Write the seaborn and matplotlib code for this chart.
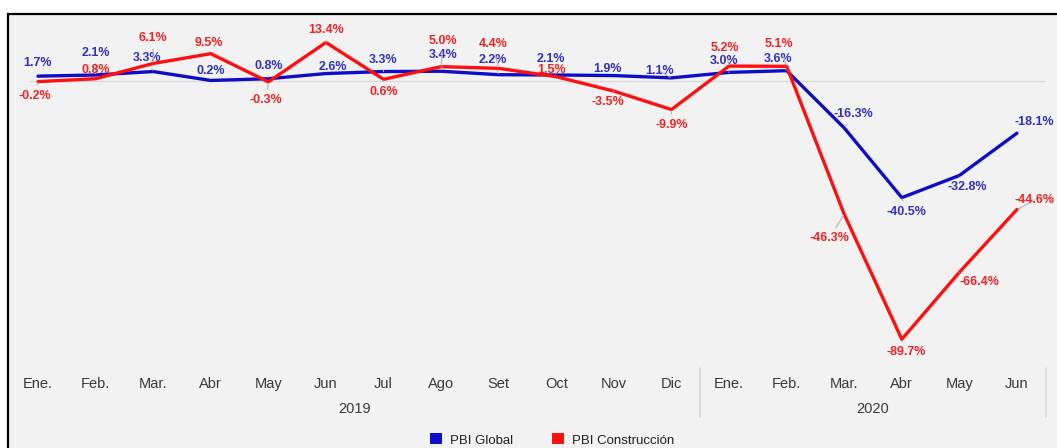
import matplotlib
matplotlib.use("Agg")
import matplotlib.pyplot as plt
from matplotlib.patches import Rectangle, Patch
from matplotlib.transforms import blended_transform_factory
import numpy as np
import pandas as pd
import seaborn as sns

# --- data -------------------------------------------------------------
months = ["Ene.", "Feb.", "Mar.", "Abr", "May", "Jun", "Jul", "Ago", "Set",
          "Oct", "Nov", "Dic", "Ene.", "Feb.", "Mar.", "Abr", "May", "Jun"]
years = ["2019", "2020"]
months_per_year = [12, 6]

pbi_global = [1.7, 2.1, 3.3, 0.2, 0.8, 2.6, 3.3, 3.4, 2.2, 2.1, 1.9, 1.1,
              3.0, 3.6, -16.3, -40.5, -32.8, -18.1]
pbi_construccion = [-0.2, 0.8, 6.1, 9.5, -0.3, 13.4, 0.6, 5.0, 4.4, 1.5, -3.5, -9.9,
                    5.2, 5.1, -46.3, -89.7, -66.4, -44.6]

series_names = ["PBI Global", "PBI Construcción"]

# --- styling ----------------------------------------------------------
sns.set_style("white")
plt.rcParams["font.family"] = ["Liberation Sans", "DejaVu Sans"]

line_colors = {"PBI Global": "#0e0ec8", "PBI Construcción": "#ff1010"}
label_colors = {"PBI Global": "#3232c0", "PBI Construcción": "#f02424"}
bg = "#f2f2f2"

# label placement (pixel offsets: right, up) for each point
offs_global = [(0, 13), (0, 22), (-6, 14), (0, 9), (0, 13), (7, 7), (0, 12), (2, 16),
               (-6, 15), (-5, 16), (-6, 7), (-12, 7), (-5, 11), (-9, 12), (9, 14),
               (5, -14), (8, -12), (17, 11)]
offs_constr = [(-3, -14), (0, 9), (0, 25), (-2, 11), (-2, -18), (0, 12), (0, -13),
               (2, 26), (-6, 24), (-5, 7), (-6, -11), (0, -15), (-4, 18), (-8, 22),
               (-15, -24), (4, -13), (20, -10), (17, 9)]

W, H = 1057, 448
fig = plt.figure(figsize=(W / 100, H / 100), dpi=100, facecolor="white")

# framed grey panel
fig.patches.append(Rectangle((8 / W, -0.05), 1.1, 1 - 14 / H + 0.05,
                             transform=fig.transFigure, facecolor=bg,
                             edgecolor="black", linewidth=1.6, zorder=-5))

ax_left, ax_right = 9.2 / W, 1045.8 / W
ax_top_px, ax_bot_px = 20, 360
ax = fig.add_axes([ax_left, 1 - ax_bot_px / H, ax_right - ax_left,
                   (ax_bot_px - ax_top_px) / H])
ax.set_facecolor("none")

x = np.arange(len(months))
df = pd.DataFrame({
    "idx": np.concatenate([x, x]),
    "valor": pbi_global + pbi_construccion,
    "serie": [series_names[0]] * len(x) + [series_names[1]] * len(x),
})

ax.axhline(0, color="#dadada", lw=1.0, zorder=1, xmin=0.02, xmax=1.0)
sns.lineplot(data=df, x="idx", y="valor", hue="serie", hue_order=series_names,
             palette=line_colors, linewidth=2.4, ax=ax, legend=False, zorder=3)

ax.set_xlim(-0.5, len(months) - 0.5)
ax.set_ylim(-96.9, 21.2)
for s in ax.spines.values():
    s.set_visible(False)
ax.set_yticks([])
ax.set_xlabel("")
ax.set_ylabel("")
ax.set_xticks(x, months)
ax.tick_params(axis="x", length=0, pad=12, labelsize=10.5, labelcolor="#3a3a3a")

px = 0.72  # pixels -> points
for name, vals, offs in [(series_names[0], pbi_global, offs_global),
                         (series_names[1], pbi_construccion, offs_constr)]:
    for xi, v, (dx, dy) in zip(x, vals, offs):
        far = (dx * dx + dy * dy) ** 0.5 >= 12
        ax.annotate(f"{v:.1f}%", xy=(xi, v), xytext=(dx * px, dy * px),
                    textcoords="offset points", ha="center", va="center",
                    fontsize=9, fontweight="bold", color=label_colors[name],
                    zorder=5,
                    arrowprops=dict(arrowstyle="-", color="#b5b5b5", lw=0.8,
                                    shrinkA=1, shrinkB=1) if far else None)

# year labels and group separators
tr = blended_transform_factory(ax.transData, fig.transFigure)
start = 0
for yr, n in zip(years, months_per_year):
    center = start + (n - 1) / 2
    fig.text(center, 1 - 409 / H, yr, transform=tr, ha="center", va="center",
             fontsize=10.5, color="#3a3a3a")
    start += n
    fig.add_artist(plt.Line2D([start - 0.5, start - 0.5], [1 - 368 / H, 1 - 417 / H],
                              transform=tr, color="#d8d8d8", lw=1.2))

handles = [Patch(facecolor=line_colors[n], edgecolor="none", label=n) for n in series_names]
fig.legend(handles=handles, loc="center", bbox_to_anchor=(552 / W, 1 - 440 / H),
           ncol=2, frameon=False, fontsize=9.5, handlelength=0.9, handleheight=0.9,
           handletextpad=0.6, columnspacing=3.0, labelcolor="#222222",
           borderpad=0.1)

fig.savefig("out.png", dpi=100, facecolor="white")
